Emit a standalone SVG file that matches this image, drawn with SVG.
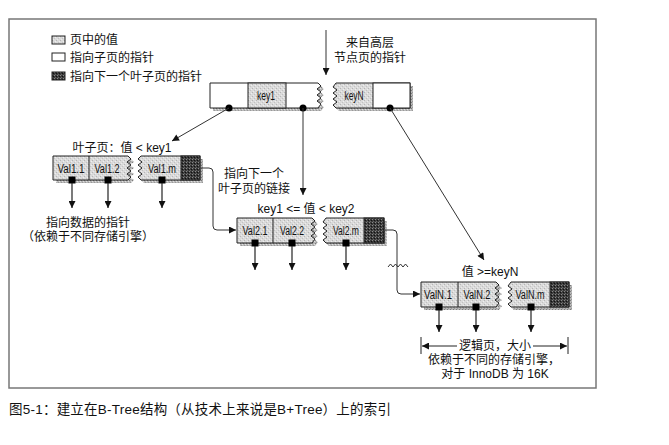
<svg xmlns="http://www.w3.org/2000/svg" xmlns:xlink="http://www.w3.org/1999/xlink" width="669" height="445" viewBox="0 0 669 445">
<style>
.t{font-family:"Liberation Sans","Noto Sans CJK SC",sans-serif;fill:#111;}
.c{font-size:12px;text-anchor:middle;}
.v{font-size:12.5px;text-anchor:middle;}
.ol{stroke:#222;stroke-width:1;}
.sh{fill:url(#sh);stroke:none;}
.con{fill:none;stroke:#333;stroke-width:1;}
.dn{stroke:#222;stroke-width:1.2;marker-end:url(#ah);}
</style>
<defs>
<pattern id="lt" width="4" height="4" patternUnits="userSpaceOnUse"><rect width="4" height="4" fill="#dadada"/><rect x="0" y="0" width="1" height="1" fill="#b5b5b5"/><rect x="2" y="2" width="1" height="1" fill="#c2c2c2"/><rect x="3" y="1" width="1" height="1" fill="#efefef"/><rect x="1" y="3" width="1" height="1" fill="#ebebeb"/></pattern>
<pattern id="dk" width="3" height="3" patternUnits="userSpaceOnUse"><rect width="3" height="3" fill="#3a3a3a"/><rect x="0" y="0" width="1" height="1" fill="#888"/><rect x="2" y="1" width="1" height="1" fill="#111"/><rect x="1" y="2" width="1" height="1" fill="#666"/></pattern>
<pattern id="sh" width="3" height="3" patternUnits="userSpaceOnUse"><rect width="3" height="3" fill="#b8b8b8"/><rect x="0" y="0" width="1" height="1" fill="#7c7c7c"/><rect x="2" y="1" width="1" height="1" fill="#e0e0e0"/><rect x="1" y="2" width="1" height="1" fill="#999"/></pattern>
<marker id="ah" viewBox="0 0 10 10" refX="10" refY="5" markerWidth="8" markerHeight="7" orient="auto" markerUnits="userSpaceOnUse"><path d="M0,0 L10,5 L0,10 z" fill="#111"/></marker>
<path id="rootL" d="M210,83 H318 L321,86 L317,89 L321,92 L317,95 L321,98 L317,101 L321,104 L318,108 H210 Z"/>
<path id="rootR" d="M336,83 H410 V108 H336 L333,105 L337,102 L333,99 L337,96 L333,93 L337,90 L333,87 Z"/>
<path id="l1L" d="M53,156 H128 L131,159 L127,162 L131,165 L127,168 L131,171 L127,174 L131,177 L128,180 H53 Z"/>
<path id="l1R" d="M141,156 H200 V180 H141 L138,177 L142,174 L138,171 L142,168 L138,165 L142,162 L138,159 Z"/>
<path id="l2L" d="M237,218 H312 L315,221 L311,224 L315,227 L311,230 L315,233 L311,236 L315,239 L312,243 H237 Z"/>
<path id="l2R" d="M326,218 H384 V243 H326 L323,240 L327,237 L323,234 L327,231 L323,228 L327,225 L323,222 Z"/>
<path id="lnL" d="M421,282 H496 L499,285 L495,288 L499,291 L495,294 L499,297 L495,300 L499,303 L496,307 H421 Z"/>
<path id="lnR" d="M511,282 H569 V307 H511 L508,304 L512,301 L508,298 L512,295 L508,292 L512,289 L508,286 Z"/>
</defs>
<rect width="669" height="445" fill="#ffffff"/>
<rect x="9" y="19" width="587" height="369" fill="none" stroke="#777" stroke-width="1.5"/>

<g id="legend">
<rect x="52" y="36" width="13" height="8" fill="url(#lt)" class="ol"/>
<text class="t" x="70" y="44" font-size="12">页中的值</text>
<rect x="52" y="53" width="13" height="8" fill="#fff" class="ol"/>
<text class="t" x="70" y="62" font-size="12">指向子页的指针</text>
<rect x="52" y="72" width="13" height="8" fill="url(#dk)" class="ol"/>
<text class="t" x="70" y="81" font-size="12">指向下一个叶子页的指针</text>
</g>

<g id="top-label">
<text class="t c" x="370" y="47">来自高层</text>
<text class="t c" x="370" y="62">节点页的指针</text>
</g>

<g id="root">
<use xlink:href="#rootL" href="#rootL" transform="translate(3,3)" class="sh"/>
<use xlink:href="#rootR" href="#rootR" transform="translate(3,3)" class="sh"/>
<use xlink:href="#rootL" href="#rootL" fill="#fff" class="ol"/>
<rect x="248" y="83" width="38" height="25" fill="url(#lt)" class="ol"/>
<use xlink:href="#rootR" href="#rootR" fill="url(#lt)" class="ol"/>
<rect x="373" y="83" width="37" height="25" fill="#fff" class="ol"/>
<text class="t v" x="266" y="100" textLength="18" lengthAdjust="spacingAndGlyphs">key1</text>
<text class="t v" x="354" y="100" textLength="19" lengthAdjust="spacingAndGlyphs">keyN</text>
<circle cx="229" cy="108" r="3.5" fill="#000"/>
<circle cx="303" cy="108" r="3.5" fill="#000"/>
<circle cx="390" cy="108" r="3.5" fill="#000"/>
</g>

<g id="leaf1">
<text class="t c" x="122" y="152">叶子页：值 &lt; key1</text>
<use xlink:href="#l1L" href="#l1L" transform="translate(3,3)" class="sh"/>
<use xlink:href="#l1R" href="#l1R" transform="translate(3,3)" class="sh"/>
<use xlink:href="#l1L" href="#l1L" fill="url(#lt)" class="ol"/>
<line x1="89" y1="156" x2="89" y2="180" class="ol"/>
<use xlink:href="#l1R" href="#l1R" fill="url(#lt)" class="ol"/>
<rect x="181" y="156" width="19" height="24" fill="url(#dk)" class="ol"/>
<text class="t v" x="71" y="172.5" textLength="27" lengthAdjust="spacingAndGlyphs">Val1.1</text>
<text class="t v" x="107" y="172.5" textLength="25" lengthAdjust="spacingAndGlyphs">Val1.2</text>
<text class="t v" x="162" y="172.5" textLength="28" lengthAdjust="spacingAndGlyphs">Val1.m</text>
<rect x="68.5" y="176.5" width="7" height="7" fill="#000"/>
<rect x="104.5" y="176.5" width="7" height="7" fill="#000"/>
<rect x="158.5" y="176.5" width="7" height="7" fill="#000"/>
<line x1="72" y1="183" x2="72" y2="208" class="dn"/>
<line x1="108" y1="183" x2="108" y2="208" class="dn"/>
<line x1="162" y1="183" x2="162" y2="208" class="dn"/>
<text class="t c" x="88" y="227">指向数据的指针</text>
<text class="t c" x="88" y="241">（依赖于不同存储引擎）</text>
</g>

<g id="leaf2">
<text class="t c" x="306" y="213">key1 &lt;= 值 &lt; key2</text>
<use xlink:href="#l2L" href="#l2L" transform="translate(3,3)" class="sh"/>
<use xlink:href="#l2R" href="#l2R" transform="translate(3,3)" class="sh"/>
<use xlink:href="#l2L" href="#l2L" fill="url(#lt)" class="ol"/>
<line x1="273" y1="218" x2="273" y2="243" class="ol"/>
<use xlink:href="#l2R" href="#l2R" fill="url(#lt)" class="ol"/>
<rect x="364" y="218" width="20" height="25" fill="url(#dk)" class="ol"/>
<text class="t v" x="255" y="235" textLength="25" lengthAdjust="spacingAndGlyphs">Val2.1</text>
<text class="t v" x="292" y="235" textLength="24" lengthAdjust="spacingAndGlyphs">Val2.2</text>
<text class="t v" x="346" y="235" textLength="26" lengthAdjust="spacingAndGlyphs">Val2.m</text>
<rect x="251.5" y="239.5" width="7" height="7" fill="#000"/>
<rect x="288.5" y="239.5" width="7" height="7" fill="#000"/>
<rect x="342.5" y="239.5" width="7" height="7" fill="#000"/>
<line x1="255" y1="246" x2="255" y2="270" class="dn"/>
<line x1="292" y1="246" x2="292" y2="270" class="dn"/>
<line x1="346" y1="246" x2="346" y2="270" class="dn"/>
</g>

<g id="leafN">
<text class="t c" x="490" y="276">值 &gt;=keyN</text>
<use xlink:href="#lnL" href="#lnL" transform="translate(3,3)" class="sh"/>
<use xlink:href="#lnR" href="#lnR" transform="translate(3,3)" class="sh"/>
<use xlink:href="#lnL" href="#lnL" fill="url(#lt)" class="ol"/>
<line x1="458" y1="282" x2="458" y2="307" class="ol"/>
<use xlink:href="#lnR" href="#lnR" fill="url(#lt)" class="ol"/>
<rect x="550" y="282" width="19" height="25" fill="url(#dk)" class="ol"/>
<text class="t v" x="438" y="299" textLength="28" lengthAdjust="spacingAndGlyphs">ValN.1</text>
<text class="t v" x="477" y="299" textLength="27" lengthAdjust="spacingAndGlyphs">ValN.2</text>
<text class="t v" x="530" y="299" textLength="29" lengthAdjust="spacingAndGlyphs">ValN.m</text>
<rect x="435.5" y="303.5" width="7" height="7" fill="#000"/>
<rect x="472.5" y="303.5" width="7" height="7" fill="#000"/>
<rect x="527.5" y="303.5" width="7" height="7" fill="#000"/>
<line x1="439" y1="310" x2="439" y2="332" class="dn"/>
<line x1="476" y1="310" x2="476" y2="332" class="dn"/>
<line x1="531" y1="310" x2="531" y2="332" class="dn"/>
</g>

<g id="page-size">
<line x1="421" y1="337" x2="421" y2="354" class="ol"/>
<line x1="568" y1="337" x2="568" y2="354" class="ol"/>
<line x1="457" y1="346" x2="422" y2="346" stroke="#222" stroke-width="1" marker-end="url(#ah)"/>
<line x1="533" y1="346" x2="567" y2="346" stroke="#222" stroke-width="1" marker-end="url(#ah)"/>
<text class="t c" x="495" y="350">逻辑页，大小</text>
<text class="t c" x="494" y="364">依赖于不同的存储引擎，</text>
<text class="t c" x="495" y="378">对于 InnoDB 为 16K</text>
</g>

<g id="connectors">
<line x1="326" y1="30" x2="326" y2="75" class="con" marker-end="url(#ah)"/>
<line x1="229" y1="108" x2="172" y2="141" class="con" marker-end="url(#ah)"/>
<line x1="303" y1="108" x2="303" y2="195" class="con" marker-end="url(#ah)"/>
<line x1="390" y1="108" x2="484" y2="260" class="con" marker-end="url(#ah)"/>
<path d="M201,168 H209 Q213,168 213,172 V226 Q213,230 217,230 H236" class="con" marker-end="url(#ah)"/>
<text class="t c" x="254" y="178">指向下一个</text>
<text class="t c" x="254" y="193">叶子页的链接</text>
<path d="M385,230 H393 Q397,230 397,234 V290 Q397,294 401,294 H420" class="con" marker-end="url(#ah)"/>
<polyline points="388,267 390.5,264 393,267 395.5,264 398,267 400.5,264 403,267 405.5,264 408,267" class="con" stroke-width="1.1"/>
</g>

<text class="t" x="9" y="414" font-size="13.5" textLength="382" lengthAdjust="spacing">图5-1：建立在B-Tree结构（从技术上来说是B+Tree）上的索引</text>
</svg>
